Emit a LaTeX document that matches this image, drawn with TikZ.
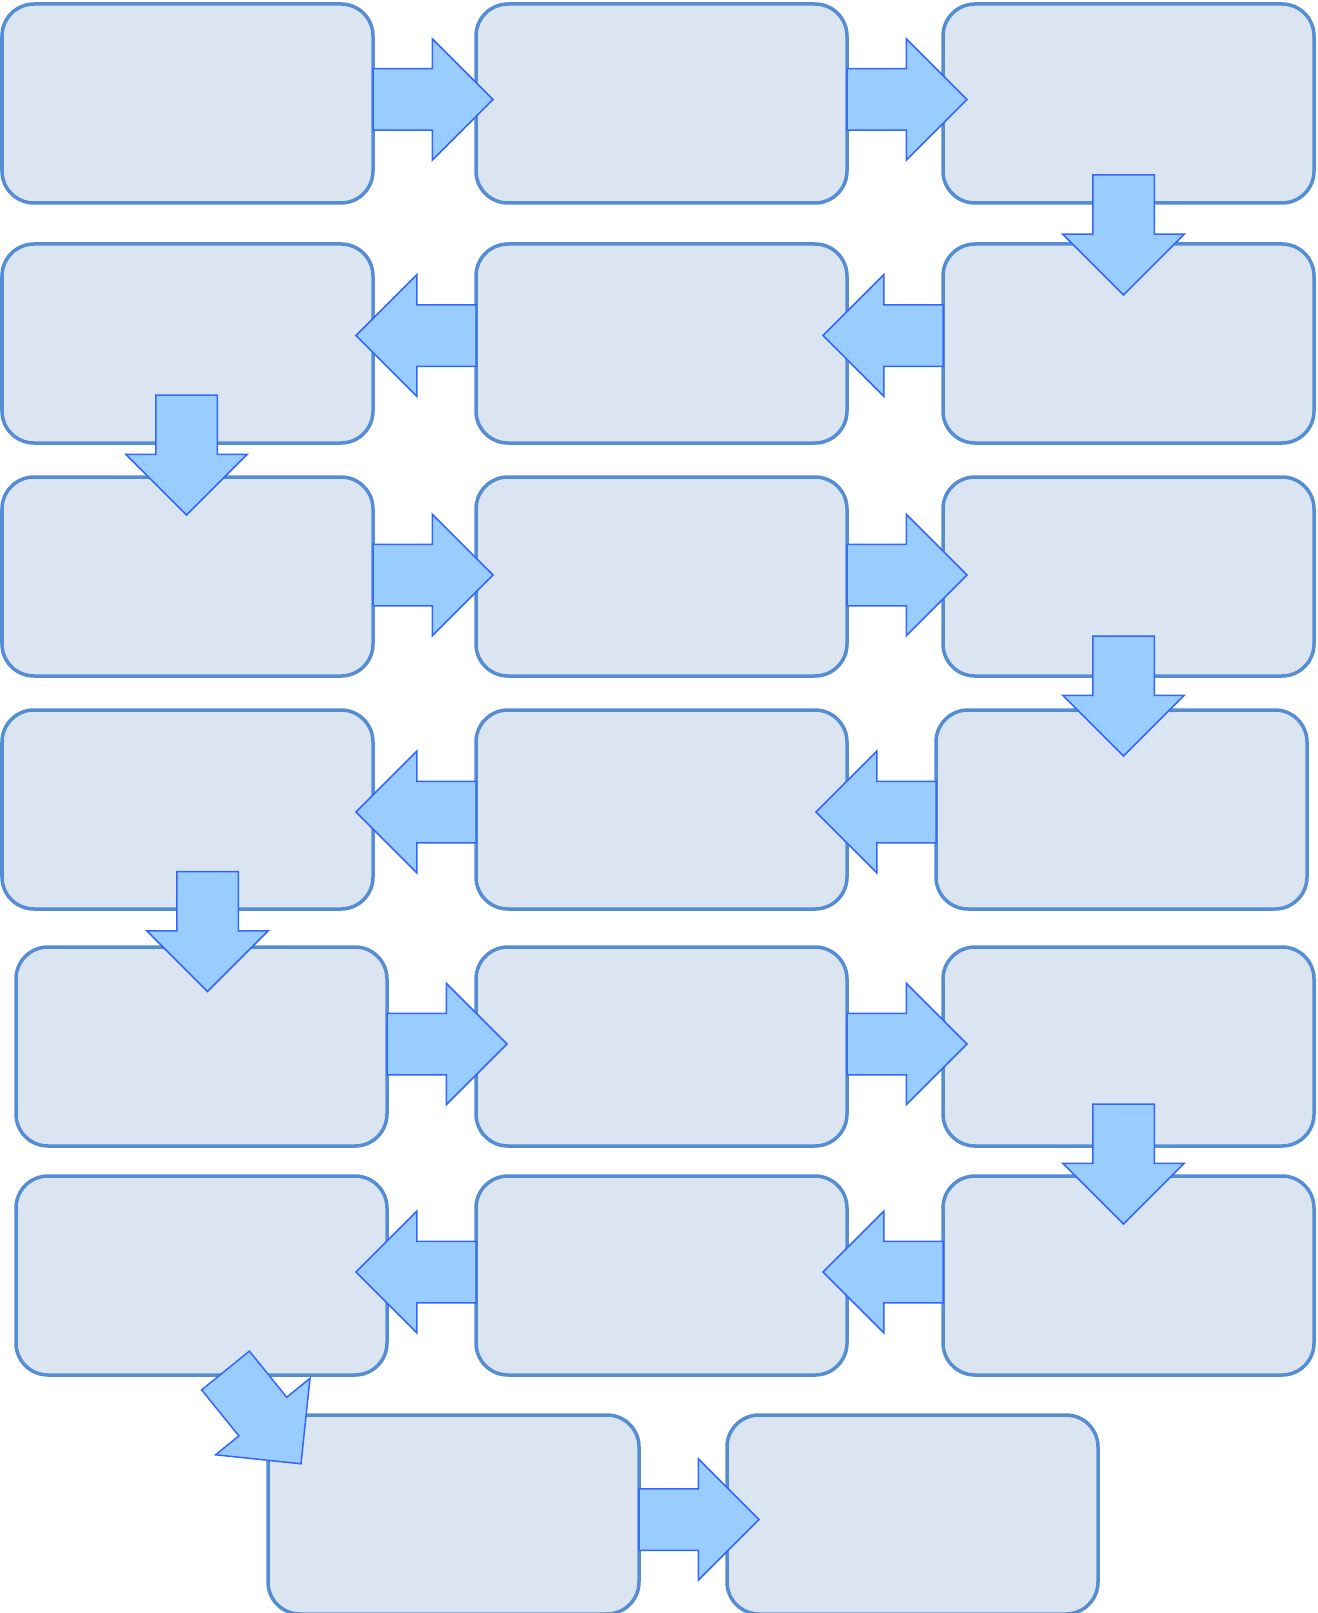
\documentclass[tikz,border=0pt]{standalone}
\usepackage{tikz}
\usetikzlibrary{positioning,calc,shapes.arrows}
\definecolor{cBoxFill}{RGB}{219,229,241}
\definecolor{cBoxLine}{RGB}{84,141,212}
\definecolor{cArrFill}{RGB}{153,204,255}
\definecolor{cArrLine}{RGB}{51,102,255}

\begin{document}
\begin{tikzpicture}[x=1pt,y=-1pt,
   box/.style={draw=cBoxLine,fill=cBoxFill,line width=3.5pt,rounded corners=32pt,
     minimum width=371pt,minimum height=199pt,inner sep=0pt,outer sep=0pt,anchor=north west},
   blk/.style={single arrow,draw=cArrLine,fill=cArrFill,line width=1.5pt,
     minimum height=120pt,single arrow head extend=30pt,
     inner xsep=0pt,inner ysep=30pt,outer sep=0pt,anchor=tail}]
  \useasboundingbox (0,0) rectangle (1317,1613);
  % row 1 (left to right)
  \node[box] (s1) at (2,4) {};
  \node[box] (s2) at (476,4) {};
  \node[box] (s3) at (943,4) {};
  % row 2 (right to left)
  \node[box] (s4) at (943,244) {};
  \node[box] (s5) at (476,244) {};
  \node[box] (s6) at (2,244) {};
  % row 3
  \node[box] (s7) at (2,477) {};
  \node[box] (s8) at (476,477) {};
  \node[box] (s9) at (943,477) {};
  % row 4
  \node[box] (s10) at (936,710) {};
  \node[box] (s11) at (476,710) {};
  \node[box] (s12) at (2,710) {};
  % row 5
  \node[box] (s13) at (16,947) {};
  \node[box] (s14) at (476,947) {};
  \node[box] (s15) at (943,947) {};
  % row 6
  \node[box] (s16) at (943,1176) {};
  \node[box] (s17) at (476,1176) {};
  \node[box] (s18) at (16,1176) {};
  % row 7
  \node[box] (s19) at (268,1415) {};
  \node[box] (s20) at (727,1415) {};

  % block arrows
  \node[blk] (ar1) at ($(s1.east)+(0,-4)$) {};
  \node[blk] (ar2) at ($(s2.east)+(0,-4)$) {};
  \node[blk,rotate=-90] (ar3) at ($(s3.south)+(-5,-28)$) {};
  \node[blk,rotate=180] (ar4) at ($(s4.west)+(0,-8)$) {};
  \node[blk,rotate=180] (ar5) at ($(s5.west)+(0,-8)$) {};
  \node[blk,rotate=-90] (ar6) at ($(s6.south)+(-1,-48)$) {};
  \node[blk] (ar7) at ($(s7.east)+(0,-1.5)$) {};
  \node[blk] (ar8) at ($(s8.east)+(0,-1.5)$) {};
  \node[blk,rotate=-90] (ar9) at ($(s9.south)+(-5,-40)$) {};
  \node[blk,rotate=180] (ar10) at ($(s10.west)+(0,2.5)$) {};
  \node[blk,rotate=180] (ar11) at ($(s11.west)+(0,2.5)$) {};
  \node[blk,rotate=-90] (ar12) at ($(s12.south)+(20,-37.5)$) {};
  \node[blk] (ar13) at ($(s13.east)+(0,-2.5)$) {};
  \node[blk] (ar14) at ($(s14.east)+(0,-2.5)$) {};
  \node[blk,rotate=-90] (ar15) at ($(s15.south)+(-5,-42)$) {};
  \node[blk,rotate=180] (ar16) at ($(s16.west)+(0,-3.5)$) {};
  \node[blk,rotate=180] (ar17) at ($(s17.west)+(0,-3.5)$) {};
  \node[blk,rotate=-51] (ar18) at ($(s18.south)+(24,-4.5)$) {};
  \node[blk] (ar19) at ($(s19.east)+(0,5)$) {};
\end{tikzpicture}
\end{document}
